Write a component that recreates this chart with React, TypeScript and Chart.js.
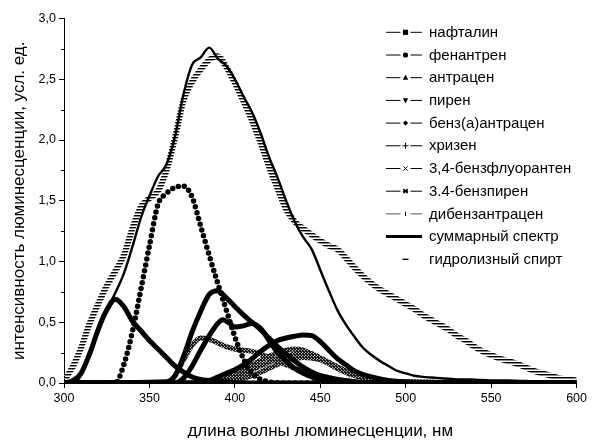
import React, { useEffect, useRef } from 'react';
import { Chart, registerables } from 'chart.js';

Chart.register(...registerables);

// ---------- data ----------
const seriesLabels = [
  'нафталин',
  'фенантрен',
  'антрацен',
  'пирен',
  'бенз(а)антрацен',
  'хризен',
  '3,4-бензфлуорантен',
  '3.4-бензпирен',
  'дибензантрацен',
  'суммарный спектр',
  'гидролизный спирт',
];
const legendMarkers = ['square', 'circle', 'triangle', 'triangleDown', 'diamond', 'plus', 'cross', 'star', 'bar', 'thick', 'dash'];

const xTickLabels = ['300', '350', '400', '450', '500', '550', '600'];
const yTickLabels = ['0,0', '0,5', '1,0', '1,5', '2,0', '2,5', '3,0'];
const xTitle = 'длина волны люминесценции, нм';
const yTitle = 'интенсивность люминесценции, усл. ед.';

const wavelengths = [
  300, 305, 310, 315, 320, 325, 330, 335, 340, 345, 350, 355, 360, 365, 370, 375, 380, 385, 390, 395,
  400, 405, 410, 415, 420, 425, 430, 435, 440, 445, 450, 455, 460, 465, 470, 475, 480, 485, 490, 495,
  500, 505, 510, 515, 520, 525, 530, 535, 540, 545, 550, 555, 560, 565, 570, 575, 580, 585, 590, 595, 600,
];
const summaryValues = [
  0.01, 0.03, 0.09, 0.22, 0.42, 0.6, 0.74, 0.9, 1.12, 1.36, 1.54, 1.7, 1.8, 2.03, 2.38, 2.62, 2.68, 2.76, 2.67, 2.61,
  2.5, 2.36, 2.23, 2.06, 1.86, 1.69, 1.5, 1.33, 1.2, 1.1, 0.93, 0.76, 0.6, 0.48, 0.38, 0.29, 0.23, 0.18, 0.14, 0.1,
  0.08, 0.06, 0.05, 0.045, 0.04, 0.035, 0.03, 0.03, 0.028, 0.025, 0.022, 0.02, 0.02, 0.018, 0.016, 0.014, 0.012, 0.01, 0.01, 0.01, 0.01,
];
const hydrolysisValues = [
  0.02, 0.13, 0.29, 0.49, 0.65, 0.8, 0.92, 1.05, 1.27, 1.45, 1.52, 1.58, 1.75, 2.02, 2.33, 2.48, 2.58, 2.66, 2.69, 2.6,
  2.47, 2.32, 2.16, 1.98, 1.78, 1.6, 1.43, 1.33, 1.27, 1.22, 1.17, 1.13, 1.1, 1.03, 0.95, 0.88, 0.82, 0.77, 0.73, 0.69,
  0.65, 0.61, 0.56, 0.52, 0.48, 0.44, 0.39, 0.35, 0.3, 0.26, 0.23, 0.2, 0.18, 0.16, 0.13, 0.1, 0.08, 0.06, 0.04, 0.03, 0.02,
];

const naphthaleneX = [300, 305, 310, 315, 320, 325, 330, 335, 340, 345, 350, 355, 360, 365, 370, 375, 380, 390, 400, 420, 600];
const naphthaleneY = [0, 0.005, 0.08, 0.24, 0.44, 0.6, 0.69, 0.63, 0.51, 0.43, 0.35, 0.28, 0.21, 0.14, 0.09, 0.05, 0.03, 0.015, 0.005, 0, 0];

const phenanthreneX = [300, 330, 335, 340, 345, 350, 355, 360, 365, 370, 375, 380, 385, 390, 395, 400, 405, 410, 415, 420, 430, 600];
const phenanthreneY = [0, 0, 0.15, 0.42, 0.77, 1.13, 1.47, 1.56, 1.61, 1.62, 1.53, 1.29, 1.05, 0.82, 0.6, 0.38, 0.2, 0.08, 0.03, 0.01, 0, 0];

const anthraceneX = [300, 360, 365, 370, 375, 380, 385, 390, 395, 400, 405, 410, 415, 420, 425, 430, 435, 440, 445, 450, 460, 470, 480, 600];
const anthraceneY = [0, 0.01, 0.06, 0.22, 0.42, 0.59, 0.73, 0.76, 0.7, 0.63, 0.56, 0.5, 0.44, 0.37, 0.3, 0.24, 0.18, 0.13, 0.09, 0.06, 0.03, 0.01, 0, 0];

const pyreneX = [300, 365, 370, 375, 380, 385, 390, 393, 397, 400, 405, 410, 415, 420, 425, 430, 435, 440, 445, 450, 460, 470, 600];
const pyreneY = [0, 0, 0.04, 0.14, 0.27, 0.39, 0.49, 0.52, 0.49, 0.46, 0.47, 0.49, 0.45, 0.35, 0.25, 0.18, 0.12, 0.08, 0.05, 0.03, 0.01, 0, 0];

const benzAnthraceneX = [300, 380, 385, 390, 395, 400, 405, 410, 415, 420, 425, 430, 435, 440, 445, 450, 455, 460, 465, 470, 475, 480, 490, 500, 510, 600];
const benzAnthraceneY = [0, 0, 0.02, 0.05, 0.08, 0.11, 0.15, 0.2, 0.26, 0.31, 0.35, 0.37, 0.385, 0.395, 0.39, 0.34, 0.27, 0.2, 0.15, 0.1, 0.07, 0.05, 0.02, 0.01, 0, 0];

const chryseneX = [300, 360, 365, 370, 375, 380, 385, 390, 395, 400, 405, 410, 415, 420, 425, 430, 435, 440, 450, 460, 470, 480, 600];
const chryseneY = [0, 0, 0.06, 0.19, 0.31, 0.37, 0.36, 0.33, 0.3, 0.28, 0.27, 0.26, 0.24, 0.21, 0.18, 0.15, 0.12, 0.1, 0.06, 0.03, 0.01, 0, 0];

const benzFluorantheneX = [300, 380, 390, 400, 410, 420, 430, 435, 440, 450, 460, 470, 480, 490, 600];
const benzFluorantheneY = [0, 0, 0.03, 0.08, 0.15, 0.22, 0.27, 0.28, 0.27, 0.2, 0.12, 0.06, 0.03, 0.01, 0];

const benzPyreneX = [300, 385, 395, 405, 415, 425, 435, 440, 445, 455, 465, 475, 485, 500, 600];
const benzPyreneY = [0, 0, 0.03, 0.08, 0.14, 0.2, 0.24, 0.25, 0.24, 0.17, 0.1, 0.05, 0.02, 0.01, 0];

const dibenzAnthraceneX = [300, 390, 400, 410, 420, 430, 440, 450, 460, 470, 480, 495, 600];
const dibenzAnthraceneY = [0, 0, 0.02, 0.06, 0.12, 0.18, 0.21, 0.19, 0.13, 0.07, 0.03, 0.01, 0];

const yMinorTicks = [0.25, 0.75, 1.25, 1.75, 2.25, 2.75];

// ---------- helpers ----------
const FONT = "'Liberation Sans', Arial, sans-serif";

function pts(xs: number[], ys: number[]) {
  return xs.map((x, i) => ({ x, y: ys[i] }));
}

function makePattern(kind: 'stripes' | 'hatch'): CanvasPattern | string {
  const c = document.createElement('canvas');
  const g = c.getContext('2d');
  if (!g) return '#000';
  if (kind === 'stripes') {
    c.width = 4;
    c.height = 3;
    g.fillStyle = '#000';
    g.fillRect(0, 0, 4, 1);
    g.fillStyle = '#8a8a8a';
    g.fillRect(0, 1, 4, 1);
  } else {
    c.width = 3;
    c.height = 3;
    g.fillStyle = '#333';
    g.fillRect(0, 0, 3, 3);
    g.fillStyle = '#000';
    g.fillRect(0, 0, 1, 1);
    g.fillRect(1, 1, 1, 1);
    g.fillRect(2, 2, 1, 1);
    g.fillStyle = '#bbb';
    g.fillRect(2, 0, 1, 1);
    g.fillRect(0, 2, 1, 1);
  }
  const p = g.createPattern(c, 'repeat');
  return p || '#000';
}

function drawMarker(ctx: CanvasRenderingContext2D, kind: string, x: number, y: number) {
  const r = 2.6;
  ctx.fillStyle = '#000';
  ctx.strokeStyle = '#000';
  ctx.lineWidth = 1;
  ctx.beginPath();
  switch (kind) {
    case 'square':
      ctx.fillRect(x - r, y - r, 2 * r, 2 * r);
      break;
    case 'circle':
      ctx.arc(x, y, r, 0, Math.PI * 2);
      ctx.fill();
      break;
    case 'triangle':
      ctx.moveTo(x, y - r - 0.5);
      ctx.lineTo(x + r, y + r - 0.5);
      ctx.lineTo(x - r, y + r - 0.5);
      ctx.closePath();
      ctx.fill();
      break;
    case 'triangleDown':
      ctx.moveTo(x, y + r + 0.5);
      ctx.lineTo(x + r, y - r + 0.5);
      ctx.lineTo(x - r, y - r + 0.5);
      ctx.closePath();
      ctx.fill();
      break;
    case 'diamond':
      ctx.moveTo(x, y - r);
      ctx.lineTo(x + r, y);
      ctx.lineTo(x, y + r);
      ctx.lineTo(x - r, y);
      ctx.closePath();
      ctx.fill();
      break;
    case 'plus':
      ctx.moveTo(x - r - 0.5, y);
      ctx.lineTo(x + r + 0.5, y);
      ctx.moveTo(x, y - r - 0.5);
      ctx.lineTo(x, y + r + 0.5);
      ctx.stroke();
      break;
    case 'cross':
      ctx.moveTo(x - r + 0.5, y - r + 0.5);
      ctx.lineTo(x + r - 0.5, y + r - 0.5);
      ctx.moveTo(x + r - 0.5, y - r + 0.5);
      ctx.lineTo(x - r + 0.5, y + r - 0.5);
      ctx.stroke();
      break;
    case 'star':
      ctx.lineWidth = 1.4;
      ctx.moveTo(x - r + 0.5, y - r + 0.5);
      ctx.lineTo(x + r - 0.5, y + r - 0.5);
      ctx.moveTo(x + r - 0.5, y - r + 0.5);
      ctx.lineTo(x - r + 0.5, y + r - 0.5);
      ctx.moveTo(x - r, y);
      ctx.lineTo(x + r, y);
      ctx.stroke();
      break;
    case 'bar':
      ctx.moveTo(x, y - r + 0.5);
      ctx.lineTo(x, y + r - 0.5);
      ctx.stroke();
      break;
  }
}

const legendPlugin = {
  id: 'refLegend',
  afterDraw(chart: any) {
    const ctx: CanvasRenderingContext2D = chart.ctx;
    const x0 = 378;
    const x1 = 414;
    const mx = 397.5;
    const tx = 421;
    const y0 = 24.3;
    const dy = 22.7;
    ctx.save();
    ctx.font = `15px ${FONT}`;
    ctx.textBaseline = 'middle';
    ctx.textAlign = 'left';
    seriesLabels.forEach((label, i) => {
      const y = y0 + dy * i;
      const kind = legendMarkers[i];
      ctx.strokeStyle = '#000';
      if (kind === 'thick') {
        ctx.lineWidth = 3;
        ctx.beginPath();
        ctx.moveTo(x0, y);
        ctx.lineTo(x1, y);
        ctx.stroke();
      } else if (kind === 'dash') {
        ctx.lineWidth = 1.3;
        ctx.beginPath();
        ctx.moveTo(mx - 3, y);
        ctx.lineTo(mx + 3, y);
        ctx.stroke();
      } else {
        ctx.lineWidth = 1;
        ctx.strokeStyle = kind === 'bar' ? '#555' : '#000';
        ctx.beginPath();
        ctx.moveTo(x0, y);
        ctx.lineTo(mx - 5, y);
        ctx.moveTo(mx + 5, y);
        ctx.lineTo(x1, y);
        ctx.stroke();
        ctx.strokeStyle = '#000';
        drawMarker(ctx, kind, mx, y);
      }
      ctx.fillStyle = '#000';
      ctx.fillText(label, tx, y + 0.5);
    });
    ctx.restore();
  },
};

const minorTickPlugin = {
  id: 'minorTicks',
  afterDraw(chart: any) {
    const ctx: CanvasRenderingContext2D = chart.ctx;
    const ys = chart.scales.y;
    const left = chart.chartArea.left;
    ctx.save();
    ctx.strokeStyle = '#000';
    ctx.lineWidth = 1;
    ctx.beginPath();
    yMinorTicks.forEach((v) => {
      const py = Math.round(ys.getPixelForValue(v)) + 0.5;
      ctx.moveTo(left - 3, py);
      ctx.lineTo(left, py);
    });
    ctx.stroke();
    ctx.restore();
  },
};

export default function App() {
  const canvasRef = useRef<HTMLCanvasElement | null>(null);

  useEffect(() => {
    if (!canvasRef.current) return;
    const stripes = makePattern('stripes');
    const hatch = makePattern('hatch');

    const common = {
      pointRadius: 0,
      pointHoverRadius: 0,
      fill: false,
      cubicInterpolationMode: 'monotone' as const,
      borderJoinStyle: 'round' as const,
    };

    const datasets: any[] = [
      { ...common, label: seriesLabels[0], data: pts(naphthaleneX, naphthaleneY), borderColor: '#000', borderWidth: 5, order: 3 },
      {
        ...common,
        label: seriesLabels[1],
        data: pts(phenanthreneX, phenanthreneY),
        borderColor: '#000',
        borderWidth: 5.5,
        borderDash: [0, 6],
        borderCapStyle: 'round',
        order: 3,
      },
      { ...common, label: seriesLabels[2], data: pts(anthraceneX, anthraceneY), borderColor: '#000', borderWidth: 5, order: 3 },
      { ...common, label: seriesLabels[3], data: pts(pyreneX, pyreneY), borderColor: '#000', borderWidth: 5, order: 3 },
      { ...common, label: seriesLabels[4], data: pts(benzAnthraceneX, benzAnthraceneY), borderColor: '#000', borderWidth: 5, order: 3 },
      { ...common, label: seriesLabels[5], data: pts(chryseneX, chryseneY), borderColor: hatch, borderWidth: 5, order: 4 },
      { ...common, label: seriesLabels[6], data: pts(benzFluorantheneX, benzFluorantheneY), borderColor: hatch, borderWidth: 5, order: 4 },
      { ...common, label: seriesLabels[7], data: pts(benzPyreneX, benzPyreneY), borderColor: hatch, borderWidth: 5, order: 4 },
      { ...common, label: seriesLabels[8], data: pts(dibenzAnthraceneX, dibenzAnthraceneY), borderColor: hatch, borderWidth: 5, order: 4 },
      { ...common, label: seriesLabels[9], data: pts(wavelengths, summaryValues), borderColor: '#000', borderWidth: 2.4, order: 0 },
      { ...common, label: seriesLabels[10], data: pts(wavelengths, hydrolysisValues), borderColor: stripes, borderWidth: 6, borderCapStyle: 'butt', order: 1 },
    ];

    const chart = new Chart(canvasRef.current, {
      type: 'line',
      data: { datasets },
      plugins: [legendPlugin, minorTickPlugin],
      options: {
        animation: false,
        responsive: false,
        events: [],
        layout: { padding: { left: 0, top: 10, right: 13, bottom: 0 } },
        plugins: { legend: { display: false }, tooltip: { enabled: false } },
        scales: {
          x: {
            type: 'linear',
            min: 300,
            max: 600,
            afterFit: (scale: any) => {
              scale.height = 55;
            },
            ticks: {
              stepSize: 50,
              color: '#000',
              font: { family: FONT, size: 12.5 },
              padding: 3,
              maxRotation: 0,
              callback: (_v: any, i: number) => xTickLabels[i],
            },
            grid: { drawOnChartArea: false, drawTicks: true, tickLength: 5, color: '#000' },
            border: { display: true, color: '#000', width: 1 },
            title: {
              display: true,
              text: xTitle,
              color: '#000',
              font: { family: FONT, size: 17, lineHeight: 1 },
              padding: { top: 0, bottom: -2 },
            },
          },
          y: {
            type: 'linear',
            min: 0,
            max: 3,
            afterFit: (scale: any) => {
              scale.width = 56;
            },
            ticks: {
              stepSize: 0.5,
              color: '#000',
              font: { family: FONT, size: 12.5 },
              padding: 3,
              callback: (_v: any, i: number) => yTickLabels[i],
            },
            grid: { drawOnChartArea: false, drawTicks: true, tickLength: 5, color: '#000' },
            border: { display: true, color: '#000', width: 1 },
            title: {
              display: true,
              text: yTitle,
              color: '#000',
              font: { family: FONT, size: 17, lineHeight: 1.2 },
              padding: { top: 1, bottom: 0 },
            },
          },
        },
      },
    });
    return () => chart.destroy();
  }, []);

  return (
    <div style={{ width: 582, height: 430 }}>
      <canvas ref={canvasRef} width={582} height={430} style={{ display: 'block', width: 582, height: 430 }} />
    </div>
  );
}
